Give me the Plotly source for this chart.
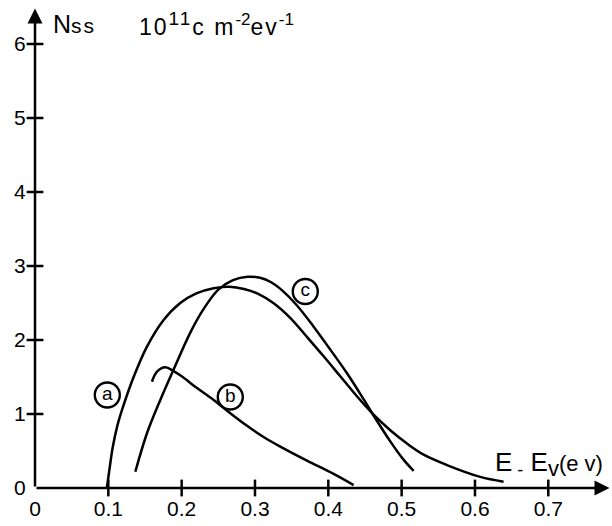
import plotly.graph_objects as go

# ---- data ----
a_x = [0.098, 0.1015, 0.106, 0.1125, 0.1208, 0.1345, 0.1527, 0.1754, 0.1981, 0.2200, 0.2436,
       0.2650, 0.2850, 0.3050, 0.3250, 0.348, 0.371, 0.3936, 0.4163, 0.439, 0.4617, 0.4845,
       0.5073, 0.530, 0.5618, 0.6072, 0.639]
a_y = [0.0, 0.25, 0.55, 0.85, 1.12, 1.50, 1.91, 2.27, 2.50, 2.63, 2.70,
       2.72, 2.69, 2.62, 2.50, 2.30, 2.04, 1.78, 1.51, 1.24, 0.99, 0.78,
       0.60, 0.45, 0.31, 0.15, 0.085]

b_x = [0.1595, 0.1664, 0.1777, 0.189, 0.200, 0.2209, 0.2436, 0.2663, 0.2891, 0.3117,
       0.3345, 0.3709, 0.4072, 0.4345]
b_y = [1.436, 1.572, 1.631, 1.58, 1.51, 1.35, 1.19, 1.01, 0.84, 0.69,
       0.56, 0.37, 0.19, 0.04]

c_x = [0.1368, 0.1527, 0.1709, 0.189, 0.2118, 0.230, 0.250, 0.270, 0.290, 0.307, 0.322,
       0.337, 0.357, 0.380, 0.4027, 0.4255, 0.4481, 0.4617, 0.4845, 0.502, 0.5164]
c_y = [0.22, 0.74, 1.19, 1.60, 2.10, 2.42, 2.68, 2.81, 2.855, 2.84, 2.78,
       2.67, 2.47, 2.18, 1.87, 1.55, 1.20, 0.98, 0.63, 0.39, 0.23]

label_text = ["a", "b", "c"]
label_x = [0.0986, 0.2663, 0.3686]
label_y = [1.257, 1.23, 2.655]

x_ticks = [0, 0.1, 0.2, 0.3, 0.4, 0.5, 0.6, 0.7]
x_ticktext = ["0", "0.1", "0.2", "0.3", "0.4", "0.5", "0.6", "0.7"]
y_ticks = [0, 1, 2, 3, 4, 5, 6]
y_ticktext = ["0", "1", "2", "3", "4", "5", "6"]

X_MAX = 0.7855
Y_MAX = 6.5
FONT = "Liberation Sans, Arial, Helvetica, sans-serif"

fig = go.Figure()

for xs, ys in [(a_x, a_y), (b_x, b_y), (c_x, c_y)]:
    fig.add_trace(go.Scatter(x=xs, y=ys, mode="lines",
                             line=dict(color="black", width=2.5, shape="spline", smoothing=1.0),
                             hoverinfo="skip", showlegend=False))

# crossing tick marks
fig.add_trace(go.Scatter(x=x_ticks[1:], y=[0] * (len(x_ticks) - 1), mode="markers",
                         marker=dict(symbol="line-ns", size=12, line=dict(color="black", width=2.5)),
                         cliponaxis=False, showlegend=False, hoverinfo="skip"))
fig.add_trace(go.Scatter(x=[0] * (len(y_ticks) - 1), y=y_ticks[1:], mode="markers",
                         marker=dict(symbol="line-ew", size=12, line=dict(color="black", width=2.5)),
                         cliponaxis=False, showlegend=False, hoverinfo="skip"))

# circled curve labels
fig.add_trace(go.Scatter(x=label_x, y=label_y, mode="markers+text", text=label_text,
                         textposition="middle center",
                         textfont=dict(family=FONT, size=19, color="black"),
                         marker=dict(symbol="circle-open", size=25, color="black",
                                     line=dict(color="black", width=2.4)),
                         cliponaxis=False, showlegend=False, hoverinfo="skip"))

# axis lines with arrows
fig.add_annotation(x=X_MAX - 0.002, y=0, ax=0, ay=0, xref="x", yref="y", axref="x", ayref="y",
                   showarrow=True, arrowhead=2, arrowsize=1.2, arrowwidth=2.5, arrowcolor="black", text="")
fig.add_annotation(x=0, y=Y_MAX - 0.02, ax=0, ay=0, xref="x", yref="y", axref="x", ayref="y",
                   showarrow=True, arrowhead=2, arrowsize=1.2, arrowwidth=2.5, arrowcolor="black", text="")

# axis titles
fig.add_annotation(x=0.022, y=6.27, xref="x", yref="y", xanchor="left", yanchor="middle",
                   text="N<span style='font-size:21px;letter-spacing:2px'>ss</span>", showarrow=False,
                   font=dict(family=FONT, size=25, color="black"))
fig.add_annotation(x=0.139, y=6.27, xref="x", yref="y", xanchor="left", yanchor="middle",
                   text=("<span style='letter-spacing:2px'>10</span>"
                         "<sup><span style='font-size:19px;letter-spacing:2px'>11</span></sup>"
                         "<span style='letter-spacing:2px'>c m</span>"
                         "<sup><span style='font-size:17px'>-2</span></sup>"
                         "<span style='letter-spacing:2px'>ev</span>"
                         "<sup><span style='font-size:17px'>-1</span></sup>"),
                   showarrow=False, font=dict(family=FONT, size=23, color="black"))
fig.add_annotation(x=0.625, y=0.33, xref="x", yref="y", xanchor="left", yanchor="middle",
                   text=("E<sub><span style='font-size:18px'> -</span></sub> E"
                         "<sub><span style='font-size:22px'>v</span></sub>"
                         "<span style='font-size:22px'>(e v)</span>"),
                   showarrow=False, font=dict(family=FONT, size=26, color="black"))

fig.update_layout(
    width=612, height=526,
    margin=dict(l=35, r=1, t=7, b=38),
    paper_bgcolor="white", plot_bgcolor="white",
    xaxis=dict(range=[0, X_MAX], showgrid=False, zeroline=False, showline=False,
               tickvals=x_ticks, ticktext=x_ticktext, ticks="outside", ticklen=2,
               tickcolor="rgba(0,0,0,0)", tickfont=dict(family=FONT, size=21, color="black")),
    yaxis=dict(range=[0, Y_MAX], showgrid=False, zeroline=False, showline=False,
               tickvals=y_ticks, ticktext=y_ticktext, ticks="outside", ticklen=4,
               tickcolor="rgba(0,0,0,0)", tickfont=dict(family=FONT, size=21, color="black")),
)

fig.write_html("out.html", config={"displayModeBar": False},
               post_script="document.body.style.margin='0px';")
